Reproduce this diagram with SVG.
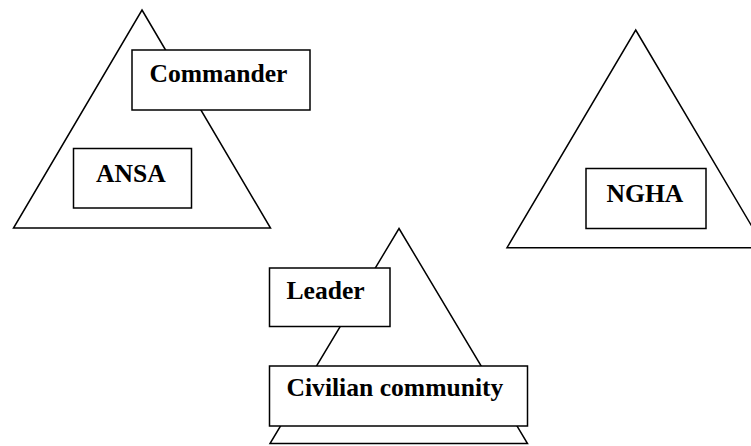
<svg xmlns="http://www.w3.org/2000/svg" width="751" height="446" viewBox="0 0 751 446">
<style>
.tri{fill:none;stroke:#000;stroke-width:1.5;stroke-linejoin:miter}
.box{fill:#fff;stroke:#000;stroke-width:1.5}
.lbl{font-family:"Liberation Serif","Times New Roman",serif;font-weight:bold;font-size:25.6px;fill:#000}
</style>
<rect width="751" height="446" fill="#fff"/>
<g id="ansa-group">
<polygon class="tri" points="142,10 270.5,228 13.5,228"/>
<g id="commander">
<rect class="box" x="132" y="50" width="178" height="60"/>
<text class="lbl" x="149.5" y="82">Commander</text>
</g>
<g id="ansa">
<rect class="box" x="73.5" y="148.5" width="118" height="59.5"/>
<text class="lbl" x="96" y="182">ANSA</text>
</g>
</g>
<g id="ngha-group">
<polygon class="tri" points="635.7,30 764.5,247.7 507,247.7"/>
<g id="ngha">
<rect class="box" x="586" y="168.5" width="120" height="60"/>
<text class="lbl" x="606.5" y="201.5">NGHA</text>
</g>
</g>
<g id="community-group">
<polygon class="tri" points="399,228.5 527.5,443.5 270,443.5"/>
<g id="leader">
<rect class="box" x="269.5" y="268" width="120.5" height="58.5"/>
<text class="lbl" x="286.5" y="299">Leader</text>
</g>
<g id="civilian">
<rect class="box" x="269.5" y="366" width="258" height="60"/>
<text class="lbl" x="286.5" y="396">Civilian community</text>
</g>
</g>
<g id="connectors"></g>
</svg>
